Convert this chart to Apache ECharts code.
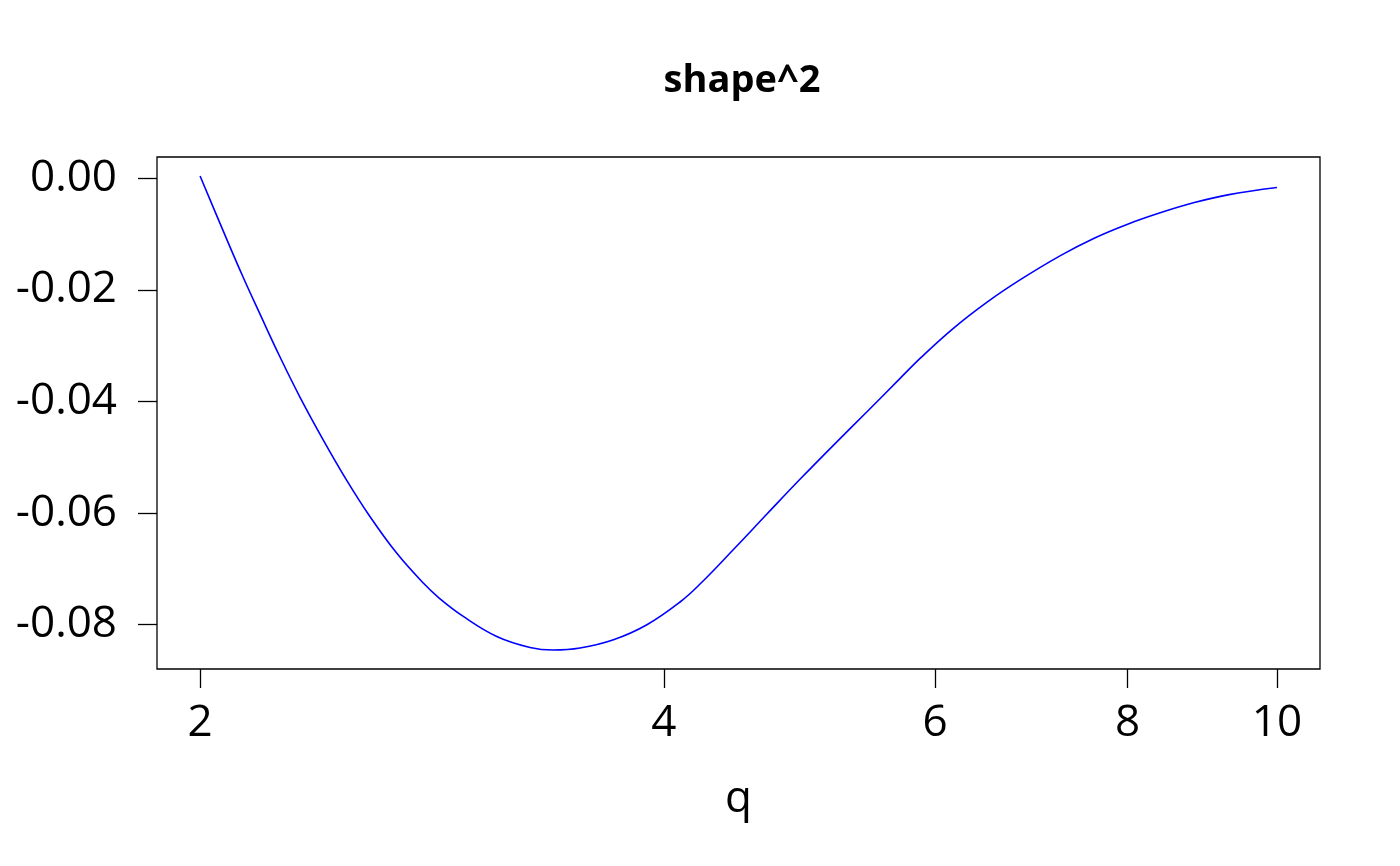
<!DOCTYPE html>
<html>
<head>
<meta charset="utf-8">
<script src="https://cdn.jsdelivr.net/npm/echarts@6/dist/echarts.min.js"></script>
<style>html,body{margin:0;padding:0;background:#fff;}#c{width:1400px;height:866px;}</style>
</head>
<body>
<div id="c"></div>
<script>
const titleText = "shape^2";
const xName = "q";
const qValues = [2.000, 2.069, 2.132, 2.186, 2.253, 2.321, 2.404, 2.489, 2.578, 2.683, 2.792, 2.859, 2.964, 3.116, 3.275, 3.391, 3.529, 3.710, 3.900, 4.100, 4.224, 4.440, 4.668, 4.906, 5.157, 5.421, 5.698, 5.871, 6.171, 6.488, 6.819, 7.240, 7.610, 8.000, 8.409, 8.839, 9.292, 10.000];
const shapeSq = [0.0004, -0.00926, -0.01762, -0.02418, -0.03195, -0.03912, -0.04687, -0.05404, -0.06061, -0.06717, -0.07254, -0.07523, -0.07852, -0.08211, -0.08408, -0.08454, -0.08418, -0.08270, -0.08001, -0.07589, -0.07267, -0.06649, -0.06013, -0.05386, -0.04777, -0.04181, -0.03577, -0.03219, -0.02681, -0.02216, -0.01814, -0.01383, -0.01075, -0.00824, -0.00616, -0.00437, -0.00299, -0.00168];
const xTicks = [2, 4, 6, 8, 10];
const yTicks = [-0.08, -0.06, -0.04, -0.02, 0.00];

const font = "'Open Sans', 'Noto Sans', sans-serif";
const lnMin = Math.log(2), lnMax = Math.log(10);
const padX = (lnMax - lnMin) * 0.04;
const yDataMin = Math.min(...shapeSq), yDataMax = Math.max(...shapeSq);
const padY = (yDataMax - yDataMin) * 0.04;

const chart = echarts.init(document.getElementById('c'), null, {renderer: 'canvas'});
chart.setOption({
  animation: false,
  backgroundColor: '#ffffff',
  title: {
    text: titleText, left: 737, textAlign: 'center', top: 57,
    textStyle: {fontFamily: font, fontWeight: 'bold', fontSize: 38, color: '#000'}
  },
  grid: {left: 157, right: 80, top: 157, bottom: 197, show: true, borderColor: '#000', borderWidth: 1.3, backgroundColor: 'transparent'},
  xAxis: {
    type: 'value',
    min: lnMin - padX, max: lnMax + padX,
    name: xName, nameLocation: 'middle', nameGap: 108,
    nameTextStyle: {fontFamily: font, fontSize: 44, color: '#000'},
    axisLine: {show: false, onZero: false},
    splitLine: {show: false},
    axisTick: {show: true, length: 19, lineStyle: {color: '#000', width: 1.3}, customValues: xTicks.map(v => Math.log(v))},
    axisLabel: {show: true, margin: 32, fontFamily: font, fontSize: 44, color: '#000',
      customValues: xTicks.map(v => Math.log(v)),
      formatter: v => String(Math.round(Math.exp(v)))}
  },
  yAxis: {
    type: 'value',
    min: yDataMin - padY, max: yDataMax + padY,
    axisLine: {show: false, onZero: false},
    splitLine: {show: false},
    axisTick: {show: true, length: 19, lineStyle: {color: '#000', width: 1.3}, customValues: yTicks},
    axisLabel: {show: true, margin: 40, fontFamily: font, fontSize: 44, color: '#000',
      customValues: yTicks,
      formatter: v => (Math.abs(v) < 1e-9 ? 0 : v).toFixed(2)}
  },
  series: [{
    type: 'line',
    data: qValues.map((q, i) => [Math.log(q), shapeSq[i]]),
    smooth: 0.4,
    showSymbol: false,
    lineStyle: {color: '#0000ff', width: 1.6},
    clip: false
  }]
});
</script>
</body>
</html>
